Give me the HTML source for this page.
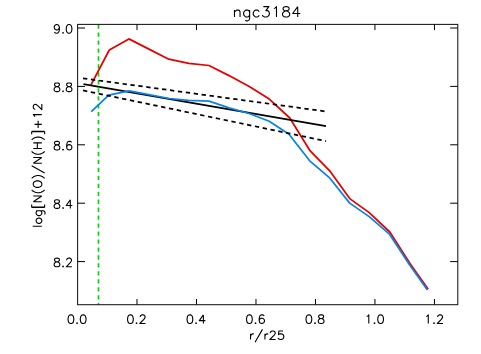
<!DOCTYPE html>
<html><head><meta charset="utf-8"><title>ngc3184</title>
<style>html,body{margin:0;padding:0;background:#fff;font-family:"Liberation Sans",sans-serif;}svg{display:block}</style>
</head><body>
<svg width="481" height="354" viewBox="0 0 481 354">
<rect x="0" y="0" width="481" height="354" fill="#fff"/>
<line x1="98.5" y1="24.5" x2="98.5" y2="304.7" stroke="#00d800" stroke-width="1.7" stroke-dasharray="4.3 3.66"/>
<polyline points="91.0,84.8 109.3,50.0 128.9,38.9 148.9,49.1 168.8,59.2 188.8,63.4 209.0,65.5 229.0,75.6 249.2,86.4 269.3,99.1 289.8,118.0 309.7,150.3 329.7,170.8 349.7,198.6 369.2,212.6 389.8,232.0 410.3,264.0 428.2,289.2" fill="none" stroke="#e60000" stroke-width="1.75" stroke-linejoin="round"/>
<line x1="83.5" y1="84.03" x2="326.0" y2="126.2" stroke="#000" stroke-width="1.75"/>
<polyline points="91.3,111.7 108.7,95.1 129.1,90.8 148.9,94.6 169.1,98.5 188.5,100.4 209.0,101.2 229.1,107.8 249.1,113.5 269.2,121.3 289.0,134.3 309.7,160.8 329.9,178.2 349.7,203.1 369.2,216.6 389.7,234.4 409.5,264.8 427.4,289.9" fill="none" stroke="#0a82e6" stroke-width="1.75" stroke-linejoin="round"/>
<line x1="83.0" y1="78.35" x2="326.0" y2="111.5" stroke="#000" stroke-width="1.75" stroke-dasharray="4.35 3.63"/>
<line x1="83.0" y1="90.42" x2="326.0" y2="141.1" stroke="#000" stroke-width="1.75" stroke-dasharray="4.35 3.63"/>
<rect x="77.6" y="24.4" width="380.20" height="280.30" fill="none" stroke="#161616" stroke-width="1.05"/>
<path d="M136.99,304.70V299.00M136.99,24.40V30.10M196.48,304.70V299.00M196.48,24.40V30.10M255.97,304.70V299.00M255.97,24.40V30.10M315.46,304.70V299.00M315.46,24.40V30.10M374.95,304.70V299.00M374.95,24.40V30.10M434.44,304.70V299.00M434.44,24.40V30.10M77.60,28.00H85.00M457.80,28.00H450.20M77.60,86.40H85.00M457.80,86.40H450.20M77.60,144.80H85.00M457.80,144.80H450.20M77.60,203.20H85.00M457.80,203.20H450.20M77.60,261.60H85.00M457.80,261.60H450.20" fill="none" stroke="#000" stroke-width="1"/>
<path d="M234.47,10.09L234.47,16.95M234.47,12.05L235.99,10.58L237.00,10.09L238.52,10.09L239.53,10.58L240.04,12.05L240.04,16.95M249.65,10.09L249.65,18.42L249.15,19.89L248.64,20.38L247.63,20.87L246.11,20.87L245.10,20.38M249.65,11.56L248.64,10.58L247.63,10.09L246.11,10.09L245.10,10.58L244.09,11.56L243.58,13.03L243.58,14.01L244.09,15.48L245.10,16.46L246.11,16.95L247.63,16.95L248.64,16.46L249.65,15.48M259.27,11.56L258.26,10.58L257.24,10.09L255.73,10.09L254.71,10.58L253.70,11.56L253.20,13.03L253.20,14.01L253.70,15.48L254.71,16.46L255.73,16.95L257.24,16.95L258.26,16.46L259.27,15.48M263.32,6.66L268.88,6.66L265.85,10.58L267.36,10.58L268.38,11.07L268.88,11.56L269.39,13.03L269.39,14.01L268.88,15.48L267.87,16.46L266.35,16.95L264.83,16.95L263.32,16.46L262.81,15.97L262.30,14.99M273.94,8.62L274.95,8.13L276.47,6.66L276.47,16.95M285.07,6.66L283.56,7.15L283.05,8.13L283.05,9.11L283.56,10.09L284.57,10.58L286.59,11.07L288.11,11.56L289.12,12.54L289.63,13.52L289.63,14.99L289.12,15.97L288.62,16.46L287.10,16.95L285.07,16.95L283.56,16.46L283.05,15.97L282.54,14.99L282.54,13.52L283.05,12.54L284.06,11.56L285.58,11.07L287.60,10.58L288.62,10.09L289.12,9.11L289.12,8.13L288.62,7.15L287.10,6.66L285.07,6.66M297.72,6.66L292.66,13.52L300.25,13.52M297.72,6.66L297.72,16.95M70.52,314.89L69.30,315.30L68.48,316.53L68.07,318.58L68.07,319.81L68.48,321.86L69.30,323.09L70.52,323.50L71.34,323.50L72.56,323.09L73.38,321.86L73.79,319.81L73.79,318.58L73.38,316.53L72.56,315.30L71.34,314.89L70.52,314.89M77.05,322.68L76.64,323.09L77.05,323.50L77.46,323.09L77.05,322.68M82.76,314.89L81.54,315.30L80.72,316.53L80.31,318.58L80.31,319.81L80.72,321.86L81.54,323.09L82.76,323.50L83.58,323.50L84.80,323.09L85.62,321.86L86.03,319.81L86.03,318.58L85.62,316.53L84.80,315.30L83.58,314.89L82.76,314.89M130.01,314.89L128.79,315.30L127.97,316.53L127.56,318.58L127.56,319.81L127.97,321.86L128.79,323.09L130.01,323.50L130.83,323.50L132.05,323.09L132.87,321.86L133.28,319.81L133.28,318.58L132.87,316.53L132.05,315.30L130.83,314.89L130.01,314.89M136.54,322.68L136.13,323.09L136.54,323.50L136.95,323.09L136.54,322.68M140.21,316.94L140.21,316.53L140.62,315.71L141.03,315.30L141.84,314.89L143.48,314.89L144.29,315.30L144.70,315.71L145.11,316.53L145.11,317.35L144.70,318.17L143.88,319.40L139.80,323.50L145.52,323.50M189.50,314.89L188.28,315.30L187.46,316.53L187.05,318.58L187.05,319.81L187.46,321.86L188.28,323.09L189.50,323.50L190.32,323.50L191.54,323.09L192.36,321.86L192.77,319.81L192.77,318.58L192.36,316.53L191.54,315.30L190.32,314.89L189.50,314.89M196.03,322.68L195.62,323.09L196.03,323.50L196.44,323.09L196.03,322.68M203.37,314.89L199.29,320.63L205.41,320.63M203.37,314.89L203.37,323.50M248.99,314.89L247.77,315.30L246.95,316.53L246.54,318.58L246.54,319.81L246.95,321.86L247.77,323.09L248.99,323.50L249.81,323.50L251.03,323.09L251.85,321.86L252.26,319.81L252.26,318.58L251.85,316.53L251.03,315.30L249.81,314.89L248.99,314.89M255.52,322.68L255.11,323.09L255.52,323.50L255.93,323.09L255.52,322.68M264.09,316.12L263.68,315.30L262.46,314.89L261.64,314.89L260.42,315.30L259.60,316.53L259.19,318.58L259.19,320.63L259.60,322.27L260.42,323.09L261.64,323.50L262.05,323.50L263.27,323.09L264.09,322.27L264.50,321.04L264.50,320.63L264.09,319.40L263.27,318.58L262.05,318.17L261.64,318.17L260.42,318.58L259.60,319.40L259.19,320.63M308.48,314.89L307.26,315.30L306.44,316.53L306.03,318.58L306.03,319.81L306.44,321.86L307.26,323.09L308.48,323.50L309.30,323.50L310.52,323.09L311.34,321.86L311.75,319.81L311.75,318.58L311.34,316.53L310.52,315.30L309.30,314.89L308.48,314.89M315.01,322.68L314.60,323.09L315.01,323.50L315.42,323.09L315.01,322.68M320.31,314.89L319.09,315.30L318.68,316.12L318.68,316.94L319.09,317.76L319.91,318.17L321.54,318.58L322.76,318.99L323.58,319.81L323.99,320.63L323.99,321.86L323.58,322.68L323.17,323.09L321.95,323.50L320.31,323.50L319.09,323.09L318.68,322.68L318.27,321.86L318.27,320.63L318.68,319.81L319.50,318.99L320.72,318.58L322.35,318.17L323.17,317.76L323.58,316.94L323.58,316.12L323.17,315.30L321.95,314.89L320.31,314.89M366.75,316.53L367.56,316.12L368.79,314.89L368.79,323.50M374.50,322.68L374.09,323.09L374.50,323.50L374.91,323.09L374.50,322.68M380.21,314.89L378.99,315.30L378.17,316.53L377.76,318.58L377.76,319.81L378.17,321.86L378.99,323.09L380.21,323.50L381.03,323.50L382.25,323.09L383.07,321.86L383.48,319.81L383.48,318.58L383.07,316.53L382.25,315.30L381.03,314.89L380.21,314.89M426.24,316.53L427.05,316.12L428.28,314.89L428.28,323.50M433.99,322.68L433.58,323.09L433.99,323.50L434.40,323.09L433.99,322.68M437.66,316.94L437.66,316.53L438.07,315.71L438.48,315.30L439.29,314.89L440.93,314.89L441.74,315.30L442.15,315.71L442.56,316.53L442.56,317.35L442.15,318.17L441.33,319.40L437.25,323.50L442.97,323.50M59.40,27.43L58.99,28.67L58.19,29.49L56.98,29.90L56.58,29.90L55.37,29.49L54.56,28.67L54.16,27.43L54.16,27.02L54.56,25.78L55.37,24.96L56.58,24.55L56.98,24.55L58.19,24.96L58.99,25.78L59.40,27.43L59.40,29.49L58.99,31.55L58.19,32.79L56.98,33.20L56.17,33.20L54.96,32.79L54.56,31.96M63.02,32.38L62.62,32.79L63.02,33.20L63.43,32.79L63.02,32.38M68.67,24.55L67.46,24.96L66.65,26.20L66.25,28.26L66.25,29.49L66.65,31.55L67.46,32.79L68.67,33.20L69.47,33.20L70.68,32.79L71.49,31.55L71.89,29.49L71.89,28.26L71.49,26.20L70.68,24.96L69.47,24.55L68.67,24.55M56.17,82.95L54.96,83.36L54.56,84.18L54.56,85.01L54.96,85.83L55.77,86.24L57.38,86.66L58.59,87.07L59.40,87.89L59.80,88.72L59.80,89.95L59.40,90.78L58.99,91.19L57.79,91.60L56.17,91.60L54.96,91.19L54.56,90.78L54.16,89.95L54.16,88.72L54.56,87.89L55.37,87.07L56.58,86.66L58.19,86.24L58.99,85.83L59.40,85.01L59.40,84.18L58.99,83.36L57.79,82.95L56.17,82.95M63.02,90.78L62.62,91.19L63.02,91.60L63.43,91.19L63.02,90.78M68.26,82.95L67.05,83.36L66.65,84.18L66.65,85.01L67.05,85.83L67.86,86.24L69.47,86.66L70.68,87.07L71.49,87.89L71.89,88.72L71.89,89.95L71.49,90.78L71.08,91.19L69.88,91.60L68.26,91.60L67.05,91.19L66.65,90.78L66.25,89.95L66.25,88.72L66.65,87.89L67.46,87.07L68.67,86.66L70.28,86.24L71.08,85.83L71.49,85.01L71.49,84.18L71.08,83.36L69.88,82.95L68.26,82.95M56.17,141.35L54.96,141.76L54.56,142.58L54.56,143.41L54.96,144.23L55.77,144.64L57.38,145.06L58.59,145.47L59.40,146.29L59.80,147.12L59.80,148.35L59.40,149.18L58.99,149.59L57.79,150.00L56.17,150.00L54.96,149.59L54.56,149.18L54.16,148.35L54.16,147.12L54.56,146.29L55.37,145.47L56.58,145.06L58.19,144.64L58.99,144.23L59.40,143.41L59.40,142.58L58.99,141.76L57.79,141.35L56.17,141.35M63.02,149.18L62.62,149.59L63.02,150.00L63.43,149.59L63.02,149.18M71.49,142.58L71.08,141.76L69.88,141.35L69.07,141.35L67.86,141.76L67.05,143.00L66.65,145.06L66.65,147.12L67.05,148.76L67.86,149.59L69.07,150.00L69.47,150.00L70.68,149.59L71.49,148.76L71.89,147.53L71.89,147.12L71.49,145.88L70.68,145.06L69.47,144.64L69.07,144.64L67.86,145.06L67.05,145.88L66.65,147.12M56.17,199.75L54.96,200.16L54.56,200.98L54.56,201.81L54.96,202.63L55.77,203.04L57.38,203.46L58.59,203.87L59.40,204.69L59.80,205.52L59.80,206.75L59.40,207.58L58.99,207.99L57.79,208.40L56.17,208.40L54.96,207.99L54.56,207.58L54.16,206.75L54.16,205.52L54.56,204.69L55.37,203.87L56.58,203.46L58.19,203.04L58.99,202.63L59.40,201.81L59.40,200.98L58.99,200.16L57.79,199.75L56.17,199.75M63.02,207.58L62.62,207.99L63.02,208.40L63.43,207.99L63.02,207.58M70.28,199.75L66.25,205.52L72.29,205.52M70.28,199.75L70.28,208.40M56.17,258.15L54.96,258.56L54.56,259.38L54.56,260.21L54.96,261.03L55.77,261.44L57.38,261.86L58.59,262.27L59.40,263.09L59.80,263.92L59.80,265.15L59.40,265.98L58.99,266.39L57.79,266.80L56.17,266.80L54.96,266.39L54.56,265.98L54.16,265.15L54.16,263.92L54.56,263.09L55.37,262.27L56.58,261.86L58.19,261.44L58.99,261.03L59.40,260.21L59.40,259.38L58.99,258.56L57.79,258.15L56.17,258.15M63.02,265.98L62.62,266.39L63.02,266.80L63.43,266.39L63.02,265.98M66.65,260.21L66.65,259.80L67.05,258.97L67.46,258.56L68.26,258.15L69.88,258.15L70.68,258.56L71.08,258.97L71.49,259.80L71.49,260.62L71.08,261.44L70.28,262.68L66.25,266.80L71.89,266.80M250.54,333.83L250.54,339.50M250.54,336.26L250.96,335.05L251.78,334.24L252.60,333.83L253.83,333.83M262.46,329.38L255.06,342.33M264.93,333.83L264.93,339.50M264.93,336.26L265.34,335.05L266.16,334.24L266.98,333.83L268.22,333.83M270.27,333.02L270.27,332.62L270.68,331.81L271.09,331.40L271.92,331.00L273.56,331.00L274.38,331.40L274.79,331.81L275.20,332.62L275.20,333.43L274.79,334.24L273.97,335.45L269.86,339.50L275.62,339.50M283.01,331.00L278.90,331.00L278.49,334.64L278.90,334.24L280.14,333.83L281.37,333.83L282.60,334.24L283.42,335.05L283.83,336.26L283.83,337.07L283.42,338.29L282.60,339.10L281.37,339.50L280.14,339.50L278.90,339.10L278.49,338.69L278.08,337.88M32.69,226.26L41.80,226.26M36.13,221.36L36.53,222.17L37.34,222.99L38.56,223.40L39.37,223.40L40.58,222.99L41.39,222.17L41.80,221.36L41.80,220.13L41.39,219.31L40.58,218.49L39.37,218.08L38.56,218.08L37.34,218.49L36.53,219.31L36.13,220.13L36.13,221.36M36.13,210.72L43.02,210.72L44.23,211.13L44.63,211.54L45.04,212.36L45.04,213.59L44.63,214.40M37.34,210.72L36.53,211.54L36.13,212.36L36.13,213.59L36.53,214.40L37.34,215.22L38.56,215.63L39.37,215.63L40.58,215.22L41.39,214.40L41.80,213.59L41.80,212.36L41.39,211.54L40.58,210.72M31.67,207.45L44.63,207.45M31.67,207.04L44.63,207.04M31.67,207.45L31.67,204.59M44.63,207.45L44.63,204.59M33.29,201.72L41.80,201.72M33.29,201.72L41.80,196.00M33.29,196.00L41.80,196.00M31.67,189.86L32.48,190.68L33.70,191.50L35.32,192.32L37.34,192.73L38.96,192.73L40.99,192.32L42.61,191.50L43.82,190.68L44.63,189.86M33.29,184.96L33.70,185.77L34.51,186.59L35.32,187.00L36.53,187.41L38.56,187.41L39.77,187.00L40.58,186.59L41.39,185.77L41.80,184.96L41.80,183.32L41.39,182.50L40.58,181.68L39.77,181.27L38.56,180.87L36.53,180.87L35.32,181.27L34.51,181.68L33.70,182.50L33.29,183.32L33.29,184.96M31.67,178.41L32.48,177.59L33.70,176.78L35.32,175.96L37.34,175.55L38.96,175.55L40.99,175.96L42.61,176.78L43.82,177.59L44.63,178.41M31.67,165.73L44.63,173.09M33.29,163.28L41.80,163.28M33.29,163.28L41.80,157.55M33.29,157.55L41.80,157.55M31.67,151.42L32.48,152.24L33.70,153.05L35.32,153.87L37.34,154.28L38.96,154.28L40.99,153.87L42.61,153.05L43.82,152.24L44.63,151.42M33.29,148.55L41.80,148.55M33.29,142.83L41.80,142.83M37.34,148.55L37.34,142.83M31.67,139.97L32.48,139.15L33.70,138.33L35.32,137.51L37.34,137.10L38.96,137.10L40.99,137.51L42.61,138.33L43.82,139.15L44.63,139.97M31.67,131.79L44.63,131.79M31.67,131.38L44.63,131.38M31.67,134.24L31.67,131.38M44.63,134.24L44.63,131.38M34.51,124.42L41.80,124.42M38.15,128.10L38.15,120.74M34.91,116.65L34.51,115.83L33.29,114.61L41.80,114.61M35.32,109.29L34.91,109.29L34.10,108.88L33.70,108.47L33.29,107.65L33.29,106.02L33.70,105.20L34.10,104.79L34.91,104.38L35.72,104.38L36.53,104.79L37.75,105.61L41.80,109.70L41.80,103.97" fill="none" stroke="#000" stroke-width="1.1" stroke-linecap="butt" stroke-linejoin="round"/>
</svg>
</body></html>
